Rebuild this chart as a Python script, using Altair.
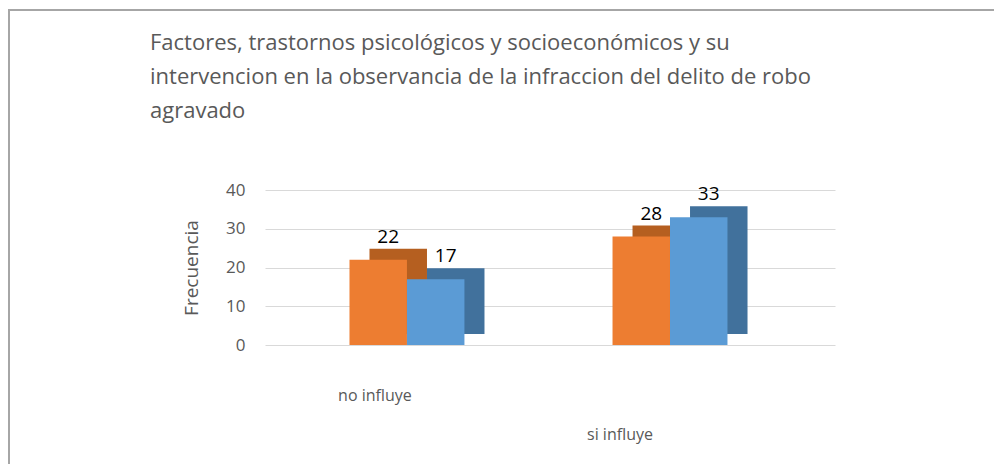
import altair as alt
import pandas as pd

categorias = ["no influye", "si influye"]
series = ["Serie 1", "Serie 2"]
valores_serie1 = [22, 28]
valores_serie2 = [17, 33]
titulo = [
    "Factores, trastornos psicológicos y socioeconómicos y su",
    "intervencion en la observancia de la infraccion del delito de robo",
    "agravado",
]
y_ticks = [0, 10, 20, 30, 40]

colores = ["#ED7D31", "#5B9BD5"]
colores_oscuros = ["#B55F20", "#41719C"]

rows = []
for i, c in enumerate(categorias):
    rows.append({"categoria": c, "serie": series[0], "valor": valores_serie1[i]})
    rows.append({"categoria": c, "serie": series[1], "valor": valores_serie2[i]})
df = pd.DataFrame(rows)

FONT = "Open Sans"
GRAY = "#595959"

x_enc = alt.X(
    "categoria:N",
    sort=categorias,
    scale=alt.Scale(domain=categorias, paddingInner=0.563, paddingOuter=0.365, align=0.44),
    axis=alt.Axis(
        title=None, labelAngle=0, domain=False, ticks=False, grid=False,
        labelFontSize=16, labelColor=GRAY, labelFont=FONT, labelBaseline="top",
        labelPadding={"condition": {"test": "datum.value == 'si influye'", "value": 81}, "value": 42},
        labelOffset={"condition": {"test": "datum.value == 'si influye'", "value": -50}, "value": -32},
    ),
)
y_enc = alt.Y(
    "valor:Q",
    scale=alt.Scale(domain=[0, 40], nice=False),
    axis=alt.Axis(
        title="Frecuencia", values=y_ticks, domain=False, ticks=False,
        labelFontSize=17, labelColor=GRAY, labelFont=FONT, labelPadding=20,
        titleFontSize=19, titleColor=GRAY, titleFont=FONT, titleFontWeight="normal",
        titlePadding=24, gridColor="#d9d9d9", gridWidth=1,
    ),
)
xo = alt.XOffset("serie:N", sort=series, scale=alt.Scale(domain=series))
xo_sombra = alt.XOffset("serie:N", sort=series, scale=alt.Scale(domain=series, range=[20, 135]))

base = alt.Chart(df)

sombra = base.mark_bar(yOffset=-11).encode(
    x=x_enc, y=y_enc, xOffset=xo_sombra,
    color=alt.Color("serie:N", scale=alt.Scale(domain=series, range=colores_oscuros), legend=None),
)
frente = base.mark_bar().encode(
    x=x_enc, y=y_enc, xOffset=xo,
    color=alt.Color("serie:N", scale=alt.Scale(domain=series, range=colores), legend=None),
)
etiquetas = base.mark_text(baseline="bottom", dx=10, dy=-13, fontSize=19, font=FONT, color="black").encode(
    x=x_enc, y=y_enc, xOffset=xo, text="valor:Q",
)

marco_df = pd.DataFrame({"k": [0]})
marco_sup = alt.Chart(marco_df).mark_rule(color="#a6a6a6", strokeWidth=2).encode(
    x=alt.value(-257), x2=alt.value(729), y=alt.value(-180)
)
marco_izq = alt.Chart(marco_df).mark_rule(color="#a6a6a6", strokeWidth=2).encode(
    x=alt.value(-256), y=alt.value(-181), y2=alt.value(290)
)

chart = alt.layer(marco_sup, marco_izq, sombra, frente, etiquetas).resolve_scale(
    color="independent", xOffset="independent"
).properties(
    width=570,
    height=155,
    padding={"left": 257, "top": 182, "right": 159, "bottom": 119},
    autosize=alt.AutoSizeParams(type="none"),
    title=alt.Title(
        text=titulo, anchor="start", frame="group", dx=-115, offset=0, dy=115, baseline="top",
        fontSize=22, font=FONT, fontWeight="normal", color=GRAY, lineHeight=34,
    ),
).configure_view(stroke=None)

chart.save("out.html", embed_options={"renderer": "svg", "actions": False})
